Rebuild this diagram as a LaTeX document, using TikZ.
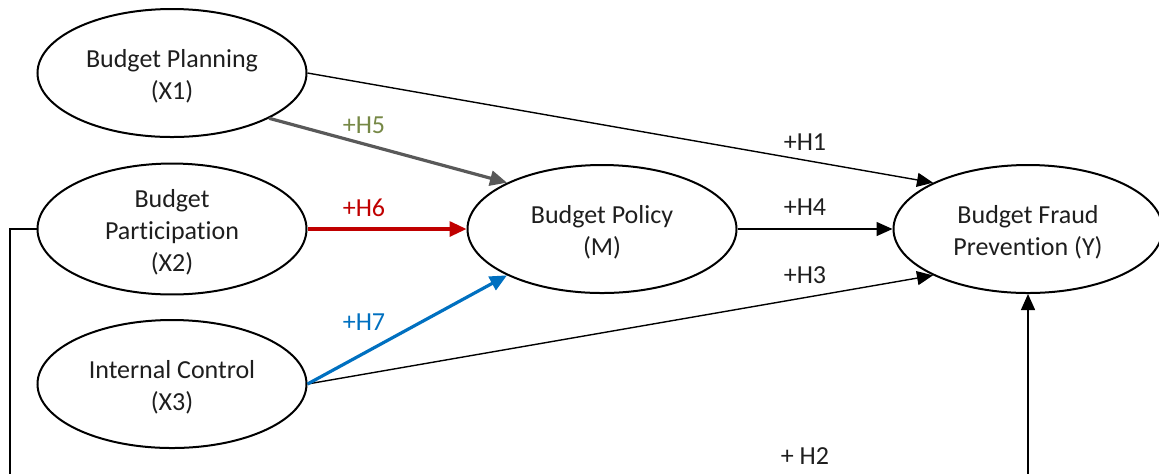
\documentclass[tikz,border=0pt]{standalone}
\usepackage{fontspec}
\setmainfont{Carlito}[Ligatures=NoCommon]
\usetikzlibrary{shapes.geometric,arrows.meta}
\definecolor{hfive}{RGB}{118,136,70}
\definecolor{hsix}{RGB}{192,0,0}
\definecolor{hseven}{RGB}{0,112,192}
\definecolor{pathgray}{RGB}{89,89,89}
\definecolor{inktext}{RGB}{30,30,30}
\tikzset{
  construct/.style={draw=black, line width=1pt, ellipse, minimum width=134.5pt,
    minimum height=64pt, inner sep=0pt, align=center, text=inktext,
    font=\fontsize{13}{16}\selectfont},
  thinpath/.style={draw=black, line width=0.7pt, -{Triangle[length=8pt,width=7pt]}},
  boldpath/.style={line width=1.6pt, -{Triangle[length=8.5pt,width=7.5pt]}},
  hyp/.style={font=\fontsize{13}{16}\selectfont, inner sep=0pt, text=inktext}
}
\begin{document}
\begin{tikzpicture}[x=0.5pt,y=-0.5pt]
\useasboundingbox (0,0) rectangle (1159,473);
\clip (0,0) rectangle (1159,473);

% constructs
\node[construct] (X1) at (172,73)  {\rule{0pt}{12.5pt}Budget Planning\\(X1)};
\node[construct] (X2) at (172,229) {\rule{0pt}{12.5pt}Budget\\Participation\\(X2)};
\node[construct] (X3) at (172,384) {\rule{0pt}{12.5pt}Internal Control\\(X3)};
\node[construct] (M)  at (602,229) {\rule{0pt}{12.5pt}Budget Policy\\(M)};
\node[construct] (Y)  at (1028,229) {\rule{0pt}{12.5pt}Budget Fraud\\Prevention (Y)};

% direct effects on fraud prevention
\draw[thinpath] (X1.east) -- (Y.154);
\draw[thinpath] (M.east) -- (Y.west);
\draw[thinpath] (X3.east) -- (Y.206);
\coordinate (loopL) at (10,229);
\coordinate (loopB) at (10,520);
\draw[thinpath] (X2.west) -- (loopL) -- (loopB) -| (Y.south);

% effects on budget policy
\draw[boldpath, draw=pathgray, fill=pathgray] (X1.-25) -- (M.154);
\draw[boldpath, draw=hsix, fill=hsix] (X2.east) -- (M.west);
\draw[boldpath, draw=hseven, fill=hseven] (X3.east) -- (M.206);

% hypothesis labels
\node[hyp, text=hfive]  (h5) at (364,125) {+H5};
\node[hyp, text=hsix]   (h6) at (364,208) {+H6};
\node[hyp, text=hseven] (h7) at (364,322) {+H7};
\node[hyp] (h1) at (805,142) {+H1};
\node[hyp] (h4) at (805,207) {+H4};
\node[hyp] (h3) at (805,275) {+H3};
\node[hyp] (h2) at (805,456) {+ H2};
\end{tikzpicture}
\end{document}
